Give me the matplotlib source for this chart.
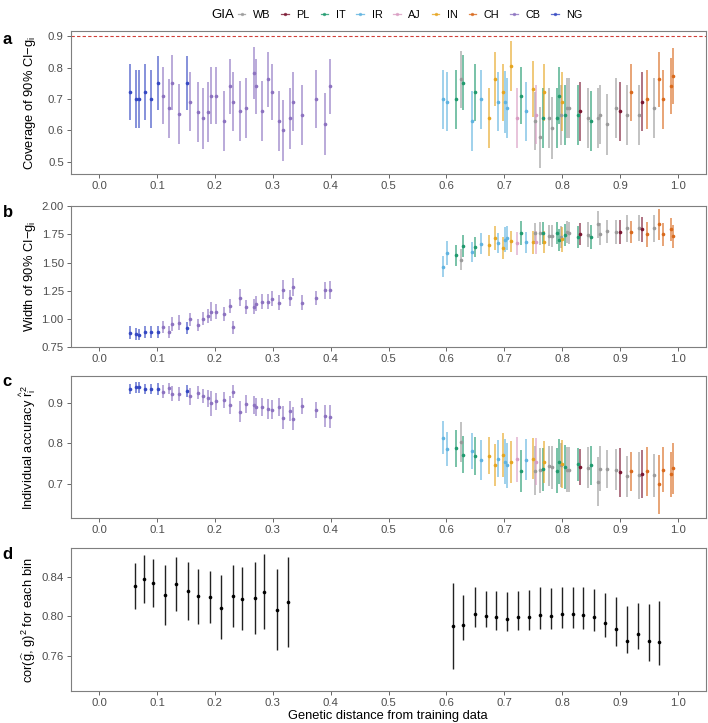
import matplotlib
matplotlib.use("Agg")
import matplotlib.pyplot as plt
from matplotlib.colors import to_rgba
from matplotlib.lines import Line2D

plt.rcParams["font.family"] = ["Liberation Sans", "DejaVu Sans"]
plt.rcParams["mathtext.fontset"] = "custom"
plt.rcParams["mathtext.rm"] = "Liberation Sans"
plt.rcParams["mathtext.it"] = "Liberation Sans:italic"

GIA_LEVELS = ["WB", "PL", "IT", "IR", "AJ", "IN", "CH", "CB", "NG"]
GIA_COLORS = {
    "WB": "#9a9a9a",
    "PL": "#7a1530",
    "IT": "#1f9a6e",
    "IR": "#5fb3e0",
    "AJ": "#d99cc2",
    "IN": "#e6a520",
    "CH": "#d9691c",
    "CB": "#8c72c0",
    "NG": "#3548c2",
}

# per-group genetic distance (panels a-c)
dist = [
    0.0538, 0.0636, 0.0688, 0.0786, 0.0890, 0.1012, 0.1098, 0.1202, 0.1254, 0.1387,
    0.1520, 0.1566, 0.1705, 0.1792, 0.1879, 0.1936, 0.2023, 0.2162, 0.2254, 0.2312,
    0.2434, 0.2532, 0.2676, 0.2711, 0.2815, 0.2913, 0.2983, 0.3104, 0.3173, 0.3301,
    0.3347, 0.3509, 0.3751, 0.3896, 0.3983,
    0.5948, 0.6011, 0.6172, 0.6259, 0.6287, 0.6448, 0.6500, 0.6603, 0.6741, 0.6839,
    0.6897, 0.6983, 0.7006, 0.7046, 0.7121, 0.7213, 0.7293, 0.7368, 0.7489, 0.7523,
    0.7552, 0.7615, 0.7672, 0.7690, 0.7764, 0.7828, 0.7902, 0.7948, 0.7983, 0.8000,
    0.8046, 0.8075, 0.8121, 0.8264, 0.8305, 0.8443, 0.8500, 0.8621, 0.8661, 0.8776,
    0.8937, 0.8994, 0.9126, 0.9195, 0.9322, 0.9374, 0.9466, 0.9592, 0.9667, 0.9747,
    0.9885, 0.9914,
]
gia = (
    ["NG"] * 6 + ["CB"] * 4 + ["NG"] + ["CB"] * 24
    + ["IR", "IR", "IT", "WB", "IT", "IR", "IT", "IR", "IN", "IN",
       "IR", "IN", "IR", "IR", "IN", "AJ", "IT", "IR", "IN", "WB",
       "AJ", "WB", "IT", "IN", "WB", "WB", "IT", "IT", "WB", "IN",
       "IT", "WB", "WB", "IT", "PL", "WB", "IT", "WB", "WB", "WB",
       "WB", "PL", "WB", "CH", "WB", "PL", "CH", "WB", "CH", "CH",
       "CH", "CH"]
)

coverage = [
    0.722, 0.700, 0.700, 0.722, 0.700, 0.752, 0.711, 0.671, 0.752, 0.651,
    0.752, 0.691, 0.660, 0.639, 0.660, 0.711, 0.711, 0.630, 0.741, 0.691,
    0.661, 0.671, 0.783, 0.741, 0.661, 0.763, 0.722, 0.630, 0.600, 0.639,
    0.691, 0.650, 0.700, 0.619, 0.741,
    0.700, 0.691, 0.700, 0.763, 0.752, 0.630, 0.722, 0.700, 0.639, 0.763,
    0.691, 0.722, 0.691, 0.671, 0.805, 0.639, 0.711, 0.661, 0.733, 0.630,
    0.650, 0.578, 0.639, 0.722, 0.639, 0.608, 0.639, 0.711, 0.650, 0.691,
    0.650, 0.671, 0.671, 0.650, 0.661, 0.639, 0.630, 0.639, 0.650, 0.619,
    0.671, 0.661, 0.650, 0.722, 0.650, 0.691, 0.700, 0.671, 0.763, 0.700,
    0.741, 0.773,
]
coverage_err = [
    0.090, 0.092, 0.092, 0.090, 0.092, 0.087, 0.091, 0.094, 0.088, 0.096,
    0.087, 0.094, 0.096, 0.097, 0.096, 0.091, 0.091, 0.097, 0.088, 0.094,
    0.096, 0.095, 0.083, 0.088, 0.096, 0.087, 0.090, 0.097, 0.097, 0.097,
    0.094, 0.096, 0.092, 0.099, 0.088,
    0.094, 0.094, 0.094, 0.091, 0.088, 0.097, 0.091, 0.094, 0.096, 0.086,
    0.094, 0.091, 0.098, 0.095, 0.079, 0.096, 0.091, 0.095, 0.090, 0.092,
    0.094, 0.098, 0.096, 0.091, 0.096, 0.099, 0.096, 0.091, 0.096, 0.094,
    0.096, 0.095, 0.095, 0.096, 0.095, 0.096, 0.097, 0.096, 0.095, 0.097,
    0.095, 0.095, 0.096, 0.091, 0.096, 0.094, 0.094, 0.095, 0.087, 0.094,
    0.089, 0.089,
]

width = [
    0.875, 0.863, 0.857, 0.881, 0.881, 0.881, 0.923, 0.881, 0.952, 0.964,
    0.917, 0.994, 0.943, 1.000, 1.024, 1.060, 1.063, 1.042, 1.113, 0.923,
    1.188, 1.104, 1.107, 1.134, 1.152, 1.152, 1.179, 1.143, 1.256, 1.185,
    1.280, 1.143, 1.185, 1.253, 1.253,
    1.464, 1.583, 1.563, 1.524, 1.649, 1.595, 1.637, 1.667, 1.652, 1.717,
    1.673, 1.628, 1.702, 1.717, 1.688, 1.670, 1.762, 1.679, 1.679, 1.759,
    1.679, 1.759, 1.762, 1.682, 1.738, 1.738, 1.762, 1.699, 1.726, 1.708,
    1.747, 1.771, 1.765, 1.726, 1.753, 1.747, 1.729, 1.839, 1.756, 1.777,
    1.774, 1.771, 1.804, 1.774, 1.804, 1.795, 1.750, 1.807, 1.839, 1.750,
    1.795, 1.732,
]
width_err = [
    0.055, 0.050, 0.050, 0.050, 0.050, 0.050, 0.055, 0.055, 0.060, 0.065,
    0.055, 0.060, 0.055, 0.060, 0.060, 0.085, 0.065, 0.060, 0.065, 0.060,
    0.075, 0.065, 0.065, 0.065, 0.065, 0.070, 0.065, 0.065, 0.085, 0.070,
    0.080, 0.065, 0.065, 0.075, 0.080,
    0.095, 0.105, 0.090, 0.095, 0.100, 0.090, 0.090, 0.095, 0.090, 0.110,
    0.090, 0.100, 0.110, 0.110, 0.095, 0.100, 0.110, 0.090, 0.100, 0.095,
    0.100, 0.100, 0.100, 0.100, 0.095, 0.100, 0.095, 0.100, 0.100, 0.110,
    0.100, 0.100, 0.100, 0.100, 0.100, 0.110, 0.105, 0.120, 0.100, 0.100,
    0.105, 0.110, 0.120, 0.100, 0.115, 0.110, 0.110, 0.120, 0.140, 0.100,
    0.100, 0.105,
]

accuracy = [
    0.933, 0.937, 0.937, 0.933, 0.933, 0.933, 0.927, 0.935, 0.922, 0.920,
    0.928, 0.915, 0.924, 0.916, 0.910, 0.898, 0.903, 0.907, 0.895, 0.927,
    0.878, 0.896, 0.894, 0.889, 0.889, 0.885, 0.883, 0.889, 0.863, 0.880,
    0.861, 0.891, 0.882, 0.867, 0.865,
    0.814, 0.786, 0.788, 0.804, 0.773, 0.782, 0.770, 0.760, 0.770, 0.747,
    0.763, 0.771, 0.756, 0.747, 0.755, 0.761, 0.733, 0.760, 0.763, 0.734,
    0.756, 0.735, 0.737, 0.755, 0.745, 0.742, 0.734, 0.755, 0.748, 0.750,
    0.742, 0.736, 0.736, 0.749, 0.742, 0.741, 0.747, 0.707, 0.738, 0.738,
    0.736, 0.730, 0.720, 0.732, 0.722, 0.726, 0.732, 0.722, 0.700, 0.736,
    0.725, 0.739,
]
accuracy_err = [
    0.013, 0.013, 0.013, 0.013, 0.013, 0.014, 0.015, 0.014, 0.018, 0.017,
    0.015, 0.020, 0.016, 0.018, 0.020, 0.030, 0.020, 0.020, 0.022, 0.015,
    0.026, 0.022, 0.022, 0.022, 0.022, 0.024, 0.024, 0.023, 0.028, 0.024,
    0.027, 0.020, 0.020, 0.027, 0.028,
    0.040, 0.042, 0.046, 0.048, 0.046, 0.044, 0.046, 0.048, 0.045, 0.052,
    0.045, 0.054, 0.055, 0.055, 0.052, 0.055, 0.052, 0.050, 0.050, 0.060,
    0.058, 0.055, 0.052, 0.052, 0.050, 0.052, 0.054, 0.055, 0.054, 0.058,
    0.054, 0.055, 0.055, 0.040, 0.044, 0.050, 0.048, 0.060, 0.055, 0.046,
    0.050, 0.060, 0.050, 0.048, 0.058, 0.058, 0.060, 0.052, 0.072, 0.055,
    0.055, 0.062,
]

# panel d: per-bin squared correlation
bin_dist = [
    0.0613, 0.0775, 0.0930, 0.1145, 0.1335, 0.1530, 0.1717, 0.1908, 0.2098, 0.2312,
    0.2468, 0.2694, 0.2850, 0.3080, 0.3266,
    0.6110, 0.6287, 0.6489, 0.6678, 0.6862, 0.7052, 0.7236, 0.7425, 0.7615, 0.7799,
    0.7989, 0.8178, 0.8362, 0.8552, 0.8741, 0.8925, 0.9120, 0.9310, 0.9494, 0.9678,
]
bin_cor = [
    0.8312, 0.8380, 0.8343, 0.8218, 0.8329, 0.8262, 0.8204, 0.8197, 0.8089, 0.8204,
    0.8177, 0.8184, 0.8251, 0.8069, 0.8143,
    0.7904, 0.7914, 0.8022, 0.8008, 0.7995, 0.7975, 0.7995, 0.7995, 0.8019, 0.8008,
    0.8029, 0.8029, 0.8012, 0.7995, 0.7931, 0.7867, 0.7755, 0.7826, 0.7749, 0.7742,
]
bin_lo = [
    0.8073, 0.8140, 0.8100, 0.7915, 0.8055, 0.7960, 0.7920, 0.7933, 0.7770, 0.7890,
    0.7860, 0.7820, 0.7870, 0.7660, 0.7690,
    0.7465, 0.7760, 0.7895, 0.7897, 0.7866, 0.7852, 0.7862, 0.7862, 0.7877, 0.7870,
    0.7887, 0.7887, 0.7877, 0.7852, 0.7791, 0.7703, 0.7632, 0.7672, 0.7551, 0.7507,
]
bin_hi = [
    0.8545, 0.8620, 0.8583, 0.8518, 0.8599, 0.8556, 0.8481, 0.8463, 0.8423, 0.8517,
    0.8497, 0.8550, 0.8631, 0.8481, 0.8600,
    0.8343, 0.8218, 0.8299, 0.8258, 0.8258, 0.8248, 0.8258, 0.8265, 0.8299, 0.8285,
    0.8299, 0.8299, 0.8295, 0.8281, 0.8233, 0.8192, 0.8105, 0.8139, 0.8122, 0.8159,
]

TICK_COLOR = "#4d4d4d"
BORDER_COLOR = "#7f7f7f"
LABEL_SIZE = 9.3


def style_axis(ax, ylim, yticks, fmt):
    ax.set_xlim(-0.049, 1.048)
    ax.set_ylim(*ylim)
    ax.set_xticks([i / 10 for i in range(11)])
    ax.set_xticklabels([f"{i / 10:.1f}" for i in range(11)])
    ax.set_yticks(yticks)
    ax.set_yticklabels([fmt.format(v) for v in yticks])
    for spine in ax.spines.values():
        spine.set_color(BORDER_COLOR)
        spine.set_linewidth(0.8)
    ax.tick_params(axis="both", direction="out", length=3, width=0.6,
                   color=TICK_COLOR, labelcolor=TICK_COLOR, labelsize=8.2, pad=2)


def draw_groups(ax, yvals, yerr):
    for i, x in enumerate(dist):
        c = GIA_COLORS[gia[i]]
        ax.errorbar([x], [yvals[i]], yerr=[yerr[i]], fmt="none",
                    ecolor=to_rgba(c, 0.7), elinewidth=1.2, capsize=0, zorder=2)
        ax.plot([x], [yvals[i]], "o", color=c, ms=2.6, mew=0, zorder=3)


fig = plt.figure(figsize=(7.08, 7.23), dpi=100)
left, w = 0.0999, 0.897

ax_a = fig.add_axes([left, 0.759, w, 0.198])
draw_groups(ax_a, coverage, coverage_err)
ax_a.axhline(0.9, color="#d0403a", lw=0.8, ls=(0, (3, 2)), zorder=1)
style_axis(ax_a, (0.46, 0.917), [0.5, 0.6, 0.7, 0.8, 0.9], "{:.1f}")
ax_a.set_ylabel(r"Coverage of 90% CI$-$g$_\mathrm{i}$", fontsize=LABEL_SIZE)

ax_b = fig.add_axes([left, 0.5205, w, 0.1945])
draw_groups(ax_b, width, width_err)
style_axis(ax_b, (0.75, 2.003), [0.75, 1.0, 1.25, 1.5, 1.75, 2.0], "{:.2f}")
ax_b.set_ylabel(r"Width of 90% CI$-$g$_\mathrm{i}$", fontsize=LABEL_SIZE)

ax_c = fig.add_axes([left, 0.283, w, 0.197])
draw_groups(ax_c, accuracy, accuracy_err)
style_axis(ax_c, (0.617, 0.965), [0.7, 0.8, 0.9], "{:.1f}")
ax_c.set_ylabel(r"Individual accuracy $\widehat{\mathrm{r}}_\mathrm{i}^{\,2}$", fontsize=LABEL_SIZE)

ax_d = fig.add_axes([left, 0.0438, w, 0.1978])
ax_d.vlines(bin_dist, bin_lo, bin_hi, color="#222222", lw=1.0, zorder=2)
ax_d.plot(bin_dist, bin_cor, "o", color="black", ms=2.6, mew=0, zorder=3)
style_axis(ax_d, (0.724, 0.869), [0.76, 0.80, 0.84], "{:.2f}")
ax_d.set_ylabel(r"cor($\widehat{\mathrm{g}}$, g)$^2$ for each bin", fontsize=LABEL_SIZE)
ax_d.set_xlabel("Genetic distance from training data", fontsize=LABEL_SIZE, labelpad=1)

for ax in (ax_a, ax_b, ax_c, ax_d):
    ax.yaxis.set_label_coords(-0.052, 0.5)

for letter, y in zip("abcd", [0.945, 0.706, 0.472, 0.233]):
    fig.text(0.004, y, letter, fontsize=12, fontweight="bold", va="center", ha="left")

handles = [Line2D([], [], color=GIA_COLORS[g], marker="o", ms=2.4, mew=0, lw=0.9, alpha=0.8)
           for g in GIA_LEVELS]
fig.text(0.299, 0.979, "GIA", fontsize=9.5, va="center", ha="left")
fig.legend(handles, GIA_LEVELS, loc="center left", bbox_to_anchor=(0.336, 0.979),
           ncol=9, frameon=False, fontsize=7.8, handlelength=0.7, handletextpad=0.7,
           columnspacing=1.0, borderpad=0, borderaxespad=0)

fig.savefig("out.png", dpi=100)
